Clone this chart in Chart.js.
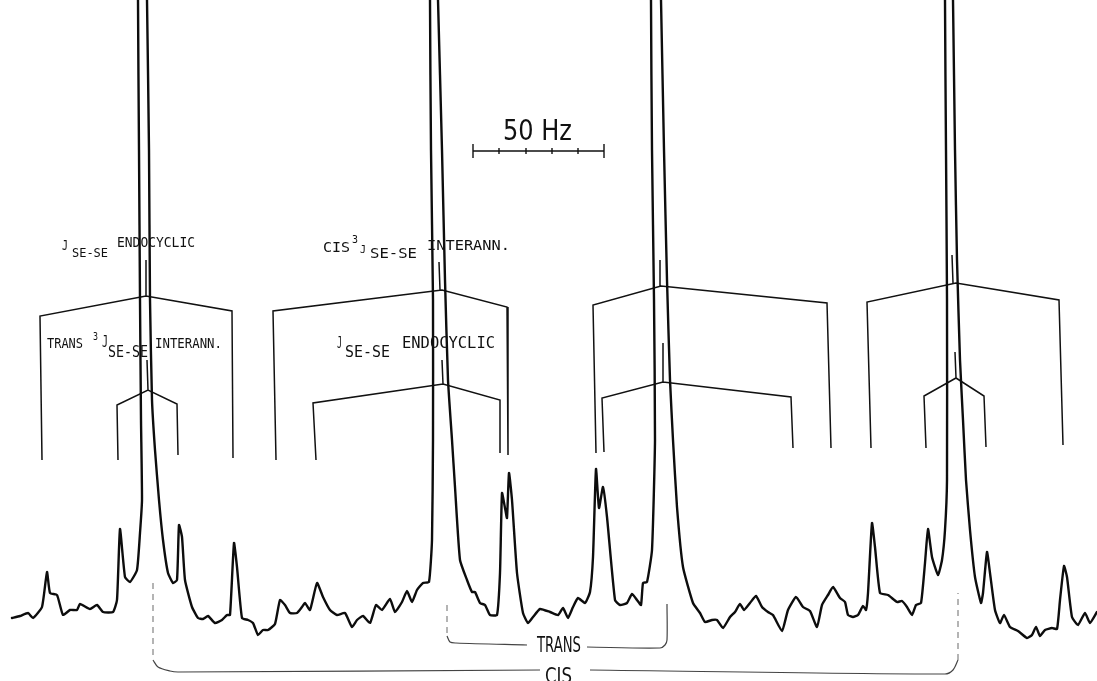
<!DOCTYPE html>
<html><head><meta charset="utf-8">
<script src="https://cdn.jsdelivr.net/npm/chart.js@4.4.1/dist/chart.umd.min.js"></script>
<style>html,body{margin:0;padding:0;background:#fff;}#wrap{width:1097px;height:681px;position:relative;}</style>
</head><body><div id="wrap"><canvas id="c"></canvas></div>
<script>
// Spectrum trace (position units along the sweep, intensity units)
const traceX = [12,20,28,33,42,47,50,57,63,70,77,80,90,97,103,113,117,120,125,130,137,140,142,141,140,139,138,139,142,146,147,149,150,152,155,159,163,168,173,177,179,182,185,192,198,203,208,215,222,227,230,234,237,242,248,253,258,263,268,275,280,285,290,297,302,305,310,317,323,330,337,345,352,357,363,370,376,382,390,395,402,407,412,417,423,429,432,433,433,431,430,431,434,437,438,442,445,448,452,455,460,467,472,475,480,485,490,497,500,502,505,507,509,512,517,523,528,533,540,550,558,563,568,573,578,585,590,593,596,599,603,607,615,620,627,632,637,641,643,647,652,655,654,652,651,652,656,660,661,664,667,670,673,677,683,693,700,705,712,717,723,730,735,740,744,750,756,762,768,773,782,788,796,803,810,817,822,828,833,840,845,848,853,858,863,866,868,872,875,880,888,897,902,907,912,916,921,925,928,932,938,942,945,947,947,946,945,946,949,952,953,955,957,960,963,966,970,975,981,983,987,990,995,1000,1004,1010,1018,1027,1032,1036,1040,1045,1052,1057,1060,1064,1067,1072,1078,1085,1090,1097];
const traceY = [63,65,68,63,74,109,88,86,66,71,71,77,72,76,69,69,81,152,104,99,111,148,181,261,381,531,681,721,741,721,681,531,381,281,231,181,141,108,98,101,156,144,101,74,63,62,65,58,61,66,66,138,114,63,61,58,46,51,51,57,81,76,68,68,74,78,71,98,84,71,66,68,54,61,65,58,76,71,82,69,79,90,79,91,98,99,141,241,381,531,681,721,741,721,681,531,401,301,241,194,121,101,89,89,78,76,66,66,108,188,173,163,208,181,108,68,58,64,72,69,66,73,63,74,83,78,89,124,212,173,194,164,81,76,78,87,81,76,98,99,131,241,381,531,681,721,741,721,681,531,401,301,241,174,114,78,68,59,61,61,53,64,69,77,71,78,85,74,69,66,50,71,84,74,70,54,76,86,94,83,79,66,64,66,75,71,88,158,134,88,86,79,80,74,66,76,78,118,152,124,106,121,151,201,381,531,681,721,741,721,681,531,421,321,261,201,151,104,78,88,129,108,71,58,66,54,50,43,46,54,45,51,53,52,81,115,104,64,56,68,58,69];

// Multiplet stick diagrams
const multipletLines = [
  {x:[42,40,146,232,233], y:[221,365,385,370,223]},
  {x:[146,146], y:[385,421]},
  {x:[118,117,148,177,178], y:[221,276,291,277,226]},
  {x:[148,147], y:[291,321]},
  {x:[276,273,442,507,508], y:[221,370,391,374,226]},
  {x:[440,439], y:[391,419]},
  {x:[316,313,443,500,500], y:[221,278,297,281,228]},
  {x:[443,442], y:[297,321]},
  {x:[596,593,661,827,831], y:[228,376,395,378,233]},
  {x:[660,660], y:[395,421]},
  {x:[604,602,663,791,793], y:[229,283,299,284,233]},
  {x:[663,663], y:[299,338]},
  {x:[871,867,956,1059,1063], y:[233,379,398,381,236]},
  {x:[953,952], y:[398,426]},
  {x:[926,924,956,984,986], y:[233,285,303,285,234]},
  {x:[956,955], y:[303,329]}
];

// 50 Hz scale bar
const scaleBarLines = [
  {x:[473,604], y:[530,530]},
  {x:[473,473], y:[523,537]},
  {x:[604,604], y:[523,537]},
  {x:[499,499], y:[527,533]},
  {x:[526,526], y:[527,533]},
  {x:[552,552], y:[527,533]},
  {x:[578,578], y:[527,533]}
];

// TRANS / CIS brackets below spectrum
const pairSolid = [
  {x:[447,450,456,527], y:[45,39,38,36]},
  {x:[587,660,665,667,667], y:[34,33,36,41,77]},
  {x:[153,158,170,178,540], y:[21,14,10,9,11]},
  {x:[590,945,953,958], y:[11,7,11,21]}
];
const pairDashed = [
  {x:[447,447], y:[76,45]},
  {x:[153,153], y:[98,21]},
  {x:[958,958], y:[21,88]}
];

function toPoints(lines){
  const out=[];
  lines.forEach((l,i)=>{
    l.x.forEach((xv,j)=>out.push({x:xv,y:l.y[j]}));
    if(i<lines.length-1) out.push({x:l.x[l.x.length-1],y:null});
  });
  return out;
}

const annotations = [
  {t:'J', x0:62, x1:68, y:431, cap:10},
  {t:'SE-SE', x0:72, x1:108, y:424, cap:9},
  {t:'ENDOCYCLIC', x0:117, x1:195, y:434, cap:10},
  {t:'TRANS', x0:47, x1:83, y:333, cap:10},
  {t:'3', x0:93, x1:98, y:341, cap:8},
  {t:'J', x0:102, x1:108, y:334, cap:12},
  {t:'SE-SE', x0:108, x1:148, y:324, cap:11},
  {t:'INTERANN.', x0:155, x1:222, y:333, cap:10},
  {t:'CIS', x0:323, x1:350, y:429, cap:10},
  {t:'3', x0:352, x1:358, y:438, cap:8},
  {t:'J', x0:360, x1:366, y:428, cap:8},
  {t:'SE-SE', x0:370, x1:417, y:423, cap:10},
  {t:'INTERANN.', x0:427, x1:510, y:431, cap:10},
  {t:'J', x0:337, x1:342, y:333, cap:11},
  {t:'SE-SE', x0:345, x1:390, y:324, cap:11},
  {t:'ENDOCYCLIC', x0:402, x1:495, y:333, cap:11},
  {t:'50 Hz', x0:503, x1:572, y:541, cap:21, font:'"DejaVu Sans"'},
  {t:'TRANS', x0:537, x1:581, y:29, cap:16, font:'"DejaVu Sans"'},
  {t:'CIS', x0:545, x1:572, y:-2, cap:15, font:'"DejaVu Sans"'}
];

const textPlugin = {
  id:'texts',
  afterDatasetsDraw(chart){
    const ctx=chart.ctx, xs=chart.scales.x, ys=chart.scales.y;
    ctx.save();
    ctx.fillStyle='#111';
    ctx.textBaseline='alphabetic';
    annotations.forEach(a=>{
      const fam=a.font||'"DejaVu Sans Mono"';
      const size=a.cap/0.73;
      ctx.font=size+'px '+fam;
      const px0=xs.getPixelForValue(a.x0), px1=xs.getPixelForValue(a.x1);
      const py=ys.getPixelForValue(a.y);
      const w=ctx.measureText(a.t).width;
      const sx=(px1-px0)/w;
      ctx.save();
      ctx.translate(px0,py);
      ctx.scale(sx,1);
      ctx.fillText(a.t,0,0);
      ctx.restore();
    });
    ctx.restore();
  }
};

new Chart(document.getElementById('c'),{
  type:'line',
  data:{datasets:[
    {data:traceX.map((v,i)=>({x:v,y:traceY[i]})), borderColor:'#0d0d0d', borderWidth:2.4, pointRadius:0, tension:0.15, borderJoinStyle:'round', borderCapStyle:'round'},
    {data:toPoints(multipletLines), borderColor:'#111', borderWidth:1.5, pointRadius:0, tension:0, spanGaps:false},
    {data:toPoints(scaleBarLines), borderColor:'#111', borderWidth:1.4, pointRadius:0, tension:0, spanGaps:false},
    {data:toPoints(pairSolid), borderColor:'#444', borderWidth:1.2, pointRadius:0, tension:0.3, spanGaps:false},
    {data:toPoints(pairDashed), borderColor:'#777', borderWidth:1.1, pointRadius:0, tension:0, borderDash:[6,5], spanGaps:false}
  ]},
  options:{
    responsive:true, maintainAspectRatio:false, animation:false, events:[],
    layout:{padding:0},
    plugins:{legend:{display:false}, tooltip:{enabled:false}},
    scales:{
      x:{type:'linear', min:0, max:1097, display:false},
      y:{type:'linear', min:0, max:681, display:false}
    }
  },
  plugins:[textPlugin]
});
</script></body></html>
